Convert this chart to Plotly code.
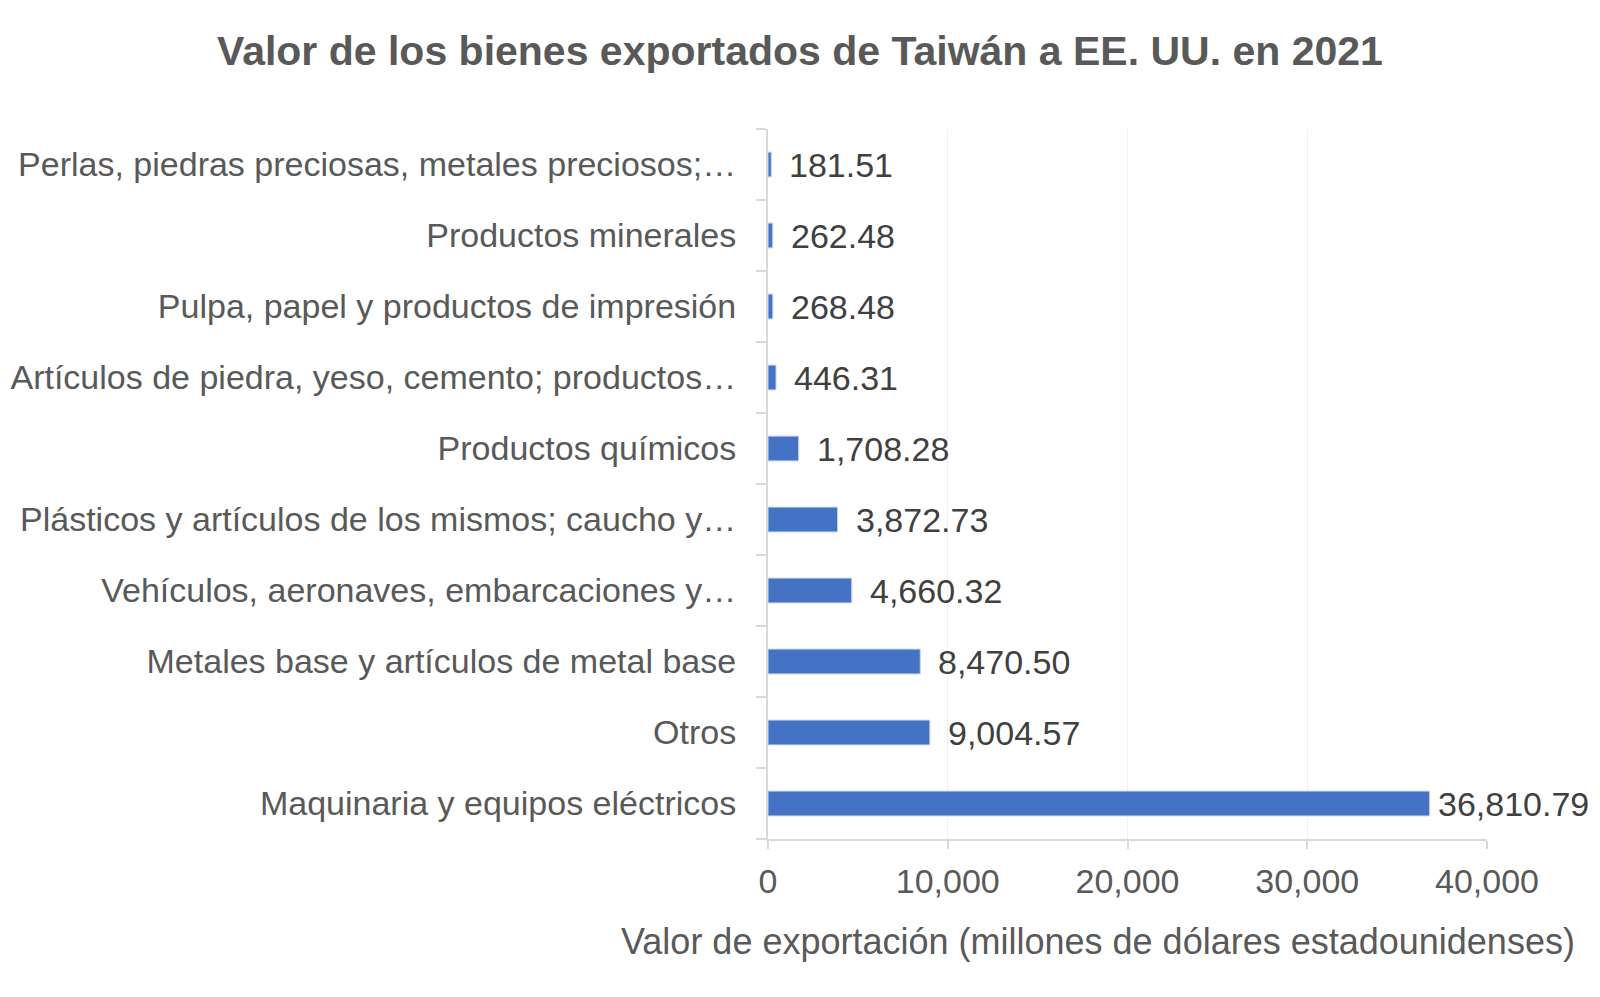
import plotly.graph_objects as go

categories = [
    "Maquinaria y equipos eléctricos",
    "Otros",
    "Metales base y artículos de metal base",
    "Vehículos, aeronaves, embarcaciones y…",
    "Plásticos y artículos de los mismos; caucho y…",
    "Productos químicos",
    "Artículos de piedra, yeso, cemento; productos…",
    "Pulpa, papel y productos de impresión",
    "Productos minerales",
    "Perlas, piedras preciosas, metales preciosos;…",
]
values = [36810.79, 9004.57, 8470.50, 4660.32, 3872.73, 1708.28, 446.31, 268.48, 262.48, 181.51]
x_ticks = [0, 10000, 20000, 30000, 40000]
x_tick_labels = ["0", "10,000", "20,000", "30,000", "40,000"]

title_text = "Valor de los bienes exportados de Taiwán a EE. UU. en 2021"
x_title_text = "Valor de exportación (millones de dólares estadounidenses)"

FONT = "Liberation Sans, Arial, sans-serif"
GRAY = "#595959"
AXIS = "#d9d9d9"

L, R, T, B = 760, 121, 121, 166
W, H = 1600, 997
plot_top, plot_bottom = T, H - B
plot_left, plot_right = L, W - R

fig = go.Figure()
fig.add_trace(go.Bar(
    x=values,
    y=categories,
    orientation="h",
    width=0.35,
    marker=dict(color="#4472C4", line=dict(color="#c9d6ef", width=1)),
    hoverinfo="x+y",
))

vmax = max(values)
annotations = []
for c, v in zip(categories, values):
    annotations.append(dict(
        x=v, y=c, xref="x", yref="y",
        text=f"{v:,.2f}",
        showarrow=False,
        xanchor="left", yanchor="middle",
        xshift=6 if v == vmax else 16,
        font=dict(family=FONT, size=34, color="#404040"),
    ))

annotations.append(dict(
    x=(1569 - plot_left) / (plot_right - plot_left),
    y=(plot_bottom - 933) / (plot_bottom - plot_top),
    xref="paper", yref="paper",
    text=x_title_text, showarrow=False,
    xanchor="right", yanchor="middle",
    font=dict(family=FONT, size=36, color=GRAY),
))

fig.update_layout(
    width=W, height=H,
    margin=dict(l=L, r=R, t=T, b=B, autoexpand=False),
    paper_bgcolor="white",
    plot_bgcolor="white",
    showlegend=False,
    font=dict(family=FONT, size=34, color=GRAY),
    title=dict(
        text=f"<b>{title_text}</b>",
        x=0.495, xanchor="center",
        y=1 - 43 / H, yanchor="middle",
        font=dict(family=FONT, size=41, color=GRAY),
    ),
    xaxis=dict(
        range=[0, 40000],
        tickvals=x_ticks,
        ticktext=x_tick_labels,
        showgrid=True, gridcolor="#f0f0f0", gridwidth=1,
        zeroline=False,
        automargin=False,
        showline=True, linecolor=AXIS, linewidth=2,
        ticks="outside", ticklen=8, tickcolor=AXIS, tickwidth=2,
        tickfont=dict(family=FONT, size=34, color=GRAY),
        ticklabelstandoff=3,
    ),
    yaxis=dict(
        type="category",
        showgrid=False,
        zeroline=False,
        automargin=False,
        showline=True, linecolor=AXIS, linewidth=2,
        ticks="outside", tickson="boundaries", ticklen=10, tickcolor=AXIS, tickwidth=2,
        tickfont=dict(family=FONT, size=34, color=GRAY),
        ticklabelstandoff=23,
    ),
    annotations=annotations,
)

fig.write_html("out.html")
